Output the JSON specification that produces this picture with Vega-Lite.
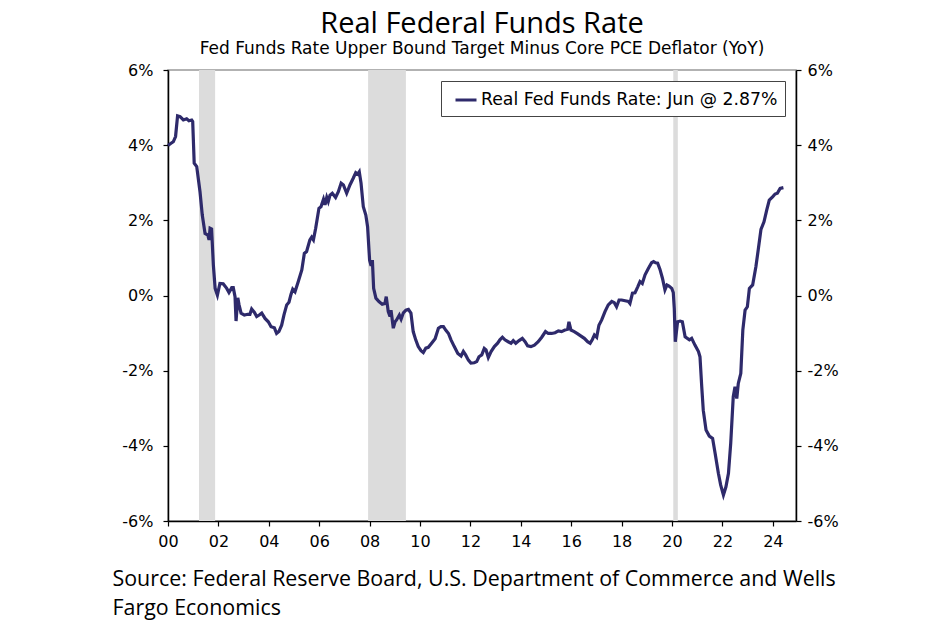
{
  "$schema": "https://vega.github.io/schema/vega-lite/v6.json",
  "width": 628,
  "height": 451,
  "autosize": "none",
  "padding": {"left": 168, "top": 70, "right": 154, "bottom": 109},
  "background": "white",
  "title": {
    "text": "Real Federal Funds Rate",
    "subtitle": "Fed Funds Rate Upper Bound Target Minus Core PCE Deflator (YoY)",
    "font": "Open Sans",
    "fontSize": 29,
    "fontWeight": "normal",
    "color": "#000",
    "subtitleFont": "DejaVu Sans",
    "subtitleFontSize": 17,
    "subtitleColor": "#000",
    "subtitlePadding": 2,
    "anchor": "middle",
    "offset": 5
  },
  "datasets": {
    "ffr": [
      {"t":2000.00,"v":3.99},{"t":2000.12,"v":4.05},{"t":2000.21,"v":4.09},{"t":2000.30,"v":4.23},{"t":2000.38,"v":4.78},{"t":2000.48,"v":4.76},{"t":2000.61,"v":4.67},{"t":2000.74,"v":4.70},{"t":2000.83,"v":4.65},{"t":2000.94,"v":4.67},{"t":2000.98,"v":4.63},
      {"t":2001.04,"v":3.52},{"t":2001.14,"v":3.43},{"t":2001.27,"v":2.76},{"t":2001.36,"v":2.14},{"t":2001.47,"v":1.65},{"t":2001.58,"v":1.61},{"t":2001.63,"v":1.48},{"t":2001.67,"v":1.79},{"t":2001.73,"v":1.77},{"t":2001.80,"v":0.81},{"t":2001.87,"v":0.19},{"t":2001.96,"v":0.01},
      {"t":2002.06,"v":0.32},{"t":2002.19,"v":0.31},{"t":2002.33,"v":0.19},{"t":2002.42,"v":0.08},{"t":2002.53,"v":0.21},{"t":2002.59,"v":0.21},{"t":2002.66,"v":-0.03},{"t":2002.70,"v":-0.68},{"t":2002.77,"v":-0.06},{"t":2002.82,"v":-0.25},{"t":2002.90,"v":-0.47},
      {"t":2003.03,"v":-0.52},{"t":2003.16,"v":-0.50},{"t":2003.25,"v":-0.50},{"t":2003.32,"v":-0.36},{"t":2003.43,"v":-0.45},{"t":2003.52,"v":-0.56},{"t":2003.62,"v":-0.52},{"t":2003.72,"v":-0.47},{"t":2003.85,"v":-0.61},{"t":2003.98,"v":-0.70},
      {"t":2004.09,"v":-0.83},{"t":2004.22,"v":-0.86},{"t":2004.31,"v":-1.01},{"t":2004.40,"v":-0.96},{"t":2004.51,"v":-0.79},{"t":2004.60,"v":-0.52},{"t":2004.71,"v":-0.25},{"t":2004.80,"v":-0.18},{"t":2004.88,"v":0.03},{"t":2004.95,"v":0.17},
      {"t":2005.04,"v":0.10},{"t":2005.17,"v":0.37},{"t":2005.31,"v":0.68},{"t":2005.41,"v":1.12},{"t":2005.50,"v":1.17},{"t":2005.63,"v":1.48},{"t":2005.70,"v":1.55},{"t":2005.77,"v":1.48},{"t":2005.86,"v":1.79},{"t":2005.99,"v":2.32},
      {"t":2006.07,"v":2.36},{"t":2006.17,"v":2.56},{"t":2006.23,"v":2.41},{"t":2006.30,"v":2.61},{"t":2006.36,"v":2.50},{"t":2006.43,"v":2.67},{"t":2006.52,"v":2.72},{"t":2006.65,"v":2.61},{"t":2006.76,"v":2.76},{"t":2006.87,"v":2.99},{"t":2006.96,"v":2.94},
      {"t":2007.09,"v":2.72},{"t":2007.22,"v":2.94},{"t":2007.35,"v":3.12},{"t":2007.45,"v":3.27},{"t":2007.53,"v":3.23},{"t":2007.59,"v":3.29},{"t":2007.66,"v":2.99},{"t":2007.75,"v":2.36},{"t":2007.85,"v":2.14},{"t":2007.92,"v":1.83},
      {"t":2008.00,"v":0.94},{"t":2008.06,"v":0.79},{"t":2008.11,"v":0.94},{"t":2008.16,"v":0.19},{"t":2008.25,"v":-0.07},{"t":2008.37,"v":-0.16},{"t":2008.50,"v":-0.23},{"t":2008.61,"v":-0.21},{"t":2008.66,"v":-0.03},{"t":2008.74,"v":-0.43},{"t":2008.81,"v":-0.56},{"t":2008.85,"v":-0.39},{"t":2008.94,"v":-0.87},
      {"t":2009.01,"v":-0.70},{"t":2009.07,"v":-0.65},{"t":2009.18,"v":-0.52},{"t":2009.25,"v":-0.63},{"t":2009.34,"v":-0.46},{"t":2009.44,"v":-0.39},{"t":2009.54,"v":-0.37},{"t":2009.64,"v":-0.47},{"t":2009.73,"v":-0.96},{"t":2009.83,"v":-1.18},{"t":2009.93,"v":-1.36},
      {"t":2010.04,"v":-1.47},{"t":2010.13,"v":-1.52},{"t":2010.23,"v":-1.40},{"t":2010.33,"v":-1.38},{"t":2010.46,"v":-1.27},{"t":2010.60,"v":-1.15},{"t":2010.73,"v":-0.87},{"t":2010.83,"v":-0.83},{"t":2010.93,"v":-0.83},
      {"t":2011.02,"v":-0.92},{"t":2011.13,"v":-1.01},{"t":2011.23,"v":-1.18},{"t":2011.36,"v":-1.36},{"t":2011.50,"v":-1.54},{"t":2011.63,"v":-1.61},{"t":2011.72,"v":-1.49},{"t":2011.81,"v":-1.58},{"t":2011.92,"v":-1.72},
      {"t":2012.02,"v":-1.80},{"t":2012.15,"v":-1.79},{"t":2012.25,"v":-1.76},{"t":2012.34,"v":-1.63},{"t":2012.45,"v":-1.58},{"t":2012.55,"v":-1.41},{"t":2012.62,"v":-1.45},{"t":2012.71,"v":-1.65},{"t":2012.82,"v":-1.49},{"t":2012.95,"v":-1.36},
      {"t":2013.08,"v":-1.27},{"t":2013.17,"v":-1.18},{"t":2013.27,"v":-1.11},{"t":2013.37,"v":-1.18},{"t":2013.50,"v":-1.23},{"t":2013.61,"v":-1.27},{"t":2013.70,"v":-1.20},{"t":2013.80,"v":-1.27},{"t":2013.93,"v":-1.20},
      {"t":2014.06,"v":-1.14},{"t":2014.17,"v":-1.23},{"t":2014.27,"v":-1.34},{"t":2014.40,"v":-1.36},{"t":2014.54,"v":-1.32},{"t":2014.69,"v":-1.23},{"t":2014.83,"v":-1.11},{"t":2014.98,"v":-0.96},
      {"t":2015.09,"v":-1.01},{"t":2015.22,"v":-1.01},{"t":2015.36,"v":-0.99},{"t":2015.49,"v":-0.94},{"t":2015.62,"v":-0.96},{"t":2015.75,"v":-0.92},{"t":2015.86,"v":-0.90},{"t":2015.91,"v":-0.70},{"t":2015.99,"v":-0.92},
      {"t":2016.12,"v":-0.96},{"t":2016.26,"v":-1.02},{"t":2016.39,"v":-1.08},{"t":2016.52,"v":-1.14},{"t":2016.65,"v":-1.23},{"t":2016.75,"v":-1.27},{"t":2016.84,"v":-1.17},{"t":2016.92,"v":-1.05},
      {"t":2017.01,"v":-1.11},{"t":2017.10,"v":-0.79},{"t":2017.21,"v":-0.65},{"t":2017.34,"v":-0.43},{"t":2017.47,"v":-0.25},{"t":2017.61,"v":-0.16},{"t":2017.71,"v":-0.19},{"t":2017.80,"v":-0.30},{"t":2017.90,"v":-0.12},
      {"t":2018.00,"v":-0.12},{"t":2018.14,"v":-0.14},{"t":2018.27,"v":-0.16},{"t":2018.33,"v":-0.21},{"t":2018.43,"v":0.06},{"t":2018.53,"v":0.07},{"t":2018.64,"v":0.23},{"t":2018.73,"v":0.37},{"t":2018.82,"v":0.32},{"t":2018.93,"v":0.55},
      {"t":2019.06,"v":0.72},{"t":2019.19,"v":0.87},{"t":2019.27,"v":0.90},{"t":2019.35,"v":0.87},{"t":2019.43,"v":0.86},{"t":2019.52,"v":0.70},{"t":2019.62,"v":0.46},{"t":2019.72,"v":0.15},{"t":2019.80,"v":0.28},{"t":2019.88,"v":0.25},{"t":2019.99,"v":0.19},
      {"t":2020.05,"v":0.08},{"t":2020.09,"v":-0.34},{"t":2020.13,"v":-1.23},{"t":2020.22,"v":-0.70},{"t":2020.32,"v":-0.68},{"t":2020.41,"v":-0.70},{"t":2020.52,"v":-1.10},{"t":2020.69,"v":-1.18},{"t":2020.78,"v":-1.14},{"t":2020.91,"v":-1.32},
      {"t":2021.05,"v":-1.49},{"t":2021.11,"v":-1.63},{"t":2021.18,"v":-2.43},{"t":2021.24,"v":-3.05},{"t":2021.35,"v":-3.58},{"t":2021.48,"v":-3.74},{"t":2021.61,"v":-3.80},{"t":2021.71,"v":-4.20},{"t":2021.84,"v":-4.73},{"t":2021.93,"v":-5.04},
      {"t":2022.04,"v":-5.31},{"t":2022.14,"v":-5.09},{"t":2022.24,"v":-4.73},{"t":2022.33,"v":-3.93},{"t":2022.43,"v":-2.69},{"t":2022.50,"v":-2.43},{"t":2022.57,"v":-2.74},{"t":2022.63,"v":-2.34},{"t":2022.73,"v":-2.07},{"t":2022.81,"v":-0.92},{"t":2022.90,"v":-0.39},{"t":2022.99,"v":-0.30},
      {"t":2023.07,"v":0.19},{"t":2023.20,"v":0.28},{"t":2023.33,"v":0.77},{"t":2023.42,"v":1.21},{"t":2023.53,"v":1.76},{"t":2023.65,"v":1.96},{"t":2023.76,"v":2.28},{"t":2023.86,"v":2.54},
      {"t":2024.00,"v":2.63},{"t":2024.09,"v":2.70},{"t":2024.18,"v":2.72},{"t":2024.29,"v":2.85},{"t":2024.42,"v":2.87}
    ],
    "rec": [
      {"s": 2001.23, "e": 2001.87},
      {"s": 2007.94, "e": 2009.44},
      {"s": 2020.05, "e": 2020.23}
    ]
  },
  "resolve": {"axis": {"y": "independent", "x": "independent"}},
  "layer": [
    {
      "data": {"name": "rec"},
      "mark": {"type": "rect", "color": "#dcdcdc"},
      "encoding": {
        "x": {"field": "s", "type": "quantitative", "scale": {"domain": [2000, 2024.92], "nice": false, "zero": false}, "axis": null},
        "x2": {"field": "e"}
      }
    },
    {
      "mark": {"type": "rule", "color": "#555", "strokeWidth": 1.3},
      "encoding": {
        "y": {
          "datum": 0,
          "type": "quantitative",
          "scale": {"domain": [-6, 6], "nice": false},
          "axis": {
            "orient": "right",
            "title": null,
            "values": [-6, -4, -2, 0, 2, 4, 6],
            "labelExpr": "datum.value + '%'",
            "tickSize": 5,
            "labelPadding": 6
          }
        }
      }
    },
    {
      "data": {"name": "ffr"},
      "mark": {"type": "line", "strokeWidth": 3.2, "interpolate": "linear"},
      "encoding": {
        "x": {
          "field": "t",
          "type": "quantitative",
          "scale": {"domain": [2000, 2024.92], "nice": false, "zero": false},
          "axis": {
            "values": [2000, 2002, 2004, 2006, 2008, 2010, 2012, 2014, 2016, 2018, 2020, 2022, 2024],
            "labelExpr": "slice('' + datum.value, 2)",
            "labelFlush": false,
            "tickSize": 5,
            "labelPadding": 7,
            "title": ["Source: Federal Reserve Board, U.S. Department of Commerce and Wells", "Fargo Economics"],
            "titleFont": "Open Sans",
            "titleFontSize": 21.4,
            "titleFontWeight": "normal",
            "titleColor": "#000",
            "titleAnchor": "start",
            "titleAlign": "left",
            "titleBaseline": "alphabetic",
            "titleX": -56,
            "titleY": 64,
            "titleLineHeight": 29
          }
        },
        "y": {
          "field": "v",
          "type": "quantitative",
          "scale": {"domain": [-6, 6], "nice": false},
          "axis": {
            "title": null,
            "values": [-6, -4, -2, 0, 2, 4, 6],
            "labelExpr": "datum.value + '%'",
            "tickSize": 5,
            "labelPadding": 10
          }
        },
        "color": {
          "datum": "Real Fed Funds Rate: Jun @ 2.87%",
          "scale": {"range": ["#2e2a6b"]},
          "legend": {
            "title": null,
            "orient": "top-right",
            "offset": 11,
            "strokeColor": "#444",
            "fillColor": "white",
            "padding": 7,
            "symbolOffset": 6,
            "symbolType": "stroke",
            "symbolStrokeWidth": 3,
            "symbolSize": 441,
            "labelOffset": 3,
            "labelFont": "DejaVu Sans",
            "labelFontSize": 17.3,
            "labelColor": "#000",
            "labelLimit": 400
          }
        }
      }
    }
  ],
  "config": {
    "view": {"stroke": "#999", "strokeWidth": 1.5},
    "axis": {
      "grid": false,
      "domainColor": "#000",
      "domainWidth": 1.5,
      "tickColor": "#000",
      "tickWidth": 1.2,
      "labelColor": "#000",
      "labelFont": "DejaVu Sans",
      "labelFontSize": 16
    }
  }
}
